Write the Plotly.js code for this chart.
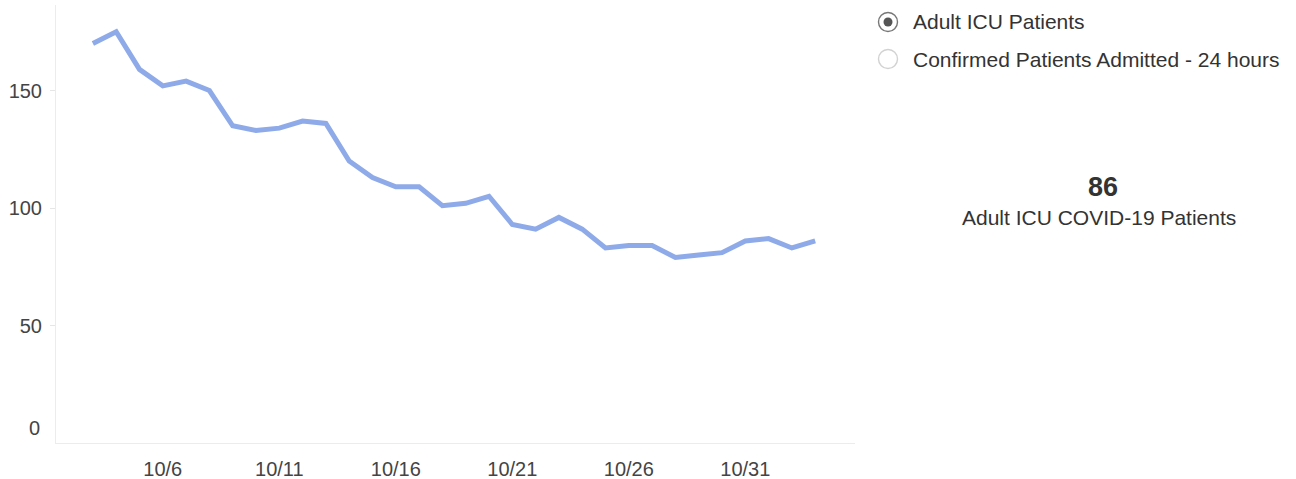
<!DOCTYPE html>
<html>
<head>
<meta charset="utf-8">
<script src="https://cdn.plot.ly/plotly-3.0.1.min.js"></script>
<style>html,body{margin:0;padding:0;background:#fff;}#chart{width:1296px;height:479px;}</style>
</head>
<body>
<div id="chart"></div>
<script>
// Dates (2020-10-03 .. 2020-11-03)
const dates = [
 "2020-10-03","2020-10-04","2020-10-05","2020-10-06","2020-10-07","2020-10-08","2020-10-09","2020-10-10",
 "2020-10-11","2020-10-12","2020-10-13","2020-10-14","2020-10-15","2020-10-16","2020-10-17","2020-10-18",
 "2020-10-19","2020-10-20","2020-10-21","2020-10-22","2020-10-23","2020-10-24","2020-10-25","2020-10-26",
 "2020-10-27","2020-10-28","2020-10-29","2020-10-30","2020-10-31","2020-11-01","2020-11-02","2020-11-03"
];
const icuPatients = [170,175,159,152,154,150,135,133,134,137,136,120,113,109,109,101,102,105,93,91,96,91,83,84,84,79,80,81,86,87,83,86];
const xTickVals = ["2020-10-06","2020-10-11","2020-10-16","2020-10-21","2020-10-26","2020-10-31"];
const xTickText = ["10/6","10/11","10/16","10/21","10/26","10/31"];
const yTickVals = [50,100,150];
const yTickText = ["50","100","150"];
const radioOptions = ["Adult ICU Patients","Confirmed Patients Admitted - 24 hours"];
const selectedOption = 0;
const banLabel = "Adult ICU COVID-19 Patients";
const banValue = icuPatients[icuPatients.length-1];

const FONT = "Liberation Sans, Arial, sans-serif";
const W = 1296, H = 479;
const L = 56, R = 855, T = 5, B = 443;
const pw = R - L, ph = B - T;
const px = v => (v - L) / pw;
const py = v => (B - v) / ph;

const shapes = [];
const annotations = [];
radioOptions.forEach((t, i) => {
  const cy = 22 + i * 37;
  shapes.push({type:'circle', xref:'paper', yref:'paper', xsizemode:'pixel', ysizemode:'pixel',
    xanchor: px(888), yanchor: py(cy), x0:-9.5, x1:9.5, y0:-9.5, y1:9.5,
    line:{color: i===selectedOption ? '#777' : '#d2d2d2', width:1.4}, fillcolor:'#fff'});
  if (i === selectedOption) {
    shapes.push({type:'circle', xref:'paper', yref:'paper', xsizemode:'pixel', ysizemode:'pixel',
      xanchor: px(888), yanchor: py(cy), x0:-4.5, x1:4.5, y0:-4.5, y1:4.5,
      line:{width:0}, fillcolor:'#555'});
  }
  annotations.push({text:t, xref:'paper', yref:'paper', x:px(911), y:py(cy), xanchor:'left', yanchor:'middle',
    showarrow:false, font:{family:FONT, size:21, color:'#333'}});
});
annotations.push({text:'<b>'+banValue+'</b>', xref:'paper', yref:'paper', x:px(1103), y:py(187), xanchor:'center', yanchor:'middle',
  showarrow:false, font:{family:FONT, size:27, color:'#333'}});
annotations.push({text:banLabel, xref:'paper', yref:'paper', x:px(1099), y:py(218), xanchor:'center', yanchor:'middle',
  showarrow:false, font:{family:FONT, size:21, color:'#333'}});
annotations.push({text:'0', xref:'paper', yref:'y', x:0, y:0, xshift:-14, yshift:15, xanchor:'right', yanchor:'middle',
  showarrow:false, font:{family:FONT, size:20, color:'#444'}});

const trace = {x: dates, y: icuPatients, type:'scatter', mode:'lines',
  line:{color:'#8eaae8', width:5}, hoverinfo:'x+y'};

const layout = {
  width: W, height: H,
  margin:{l:L, r:W-R, t:T, b:H-B, pad:0},
  paper_bgcolor:'#fff', plot_bgcolor:'#fff',
  showlegend:false,
  font:{family:FONT, color:'#444', size:20},
  xaxis:{type:'date', range:['2020-10-01 10:00','2020-11-04 17:00'],
    tickvals:xTickVals, ticktext:xTickText, showgrid:false, zeroline:false,
    showline:true, linecolor:'#ececec', linewidth:1, ticks:'', ticklabelstandoff:8,
    tickfont:{family:FONT, size:20, color:'#444'}},
  yaxis:{range:[0,186.4], tickvals:yTickVals, ticktext:yTickText, showgrid:false, zeroline:false,
    showline:true, linecolor:'#ececec', linewidth:1, ticks:'outside', ticklen:5, tickcolor:'#e6e6e6',
    ticklabelstandoff:4, tickfont:{family:FONT, size:20, color:'#444'}},
  shapes: shapes,
  annotations: annotations
};
Plotly.newPlot('chart', [trace], layout, {displayModeBar:false, staticPlot:true});
</script>
</body>
</html>
